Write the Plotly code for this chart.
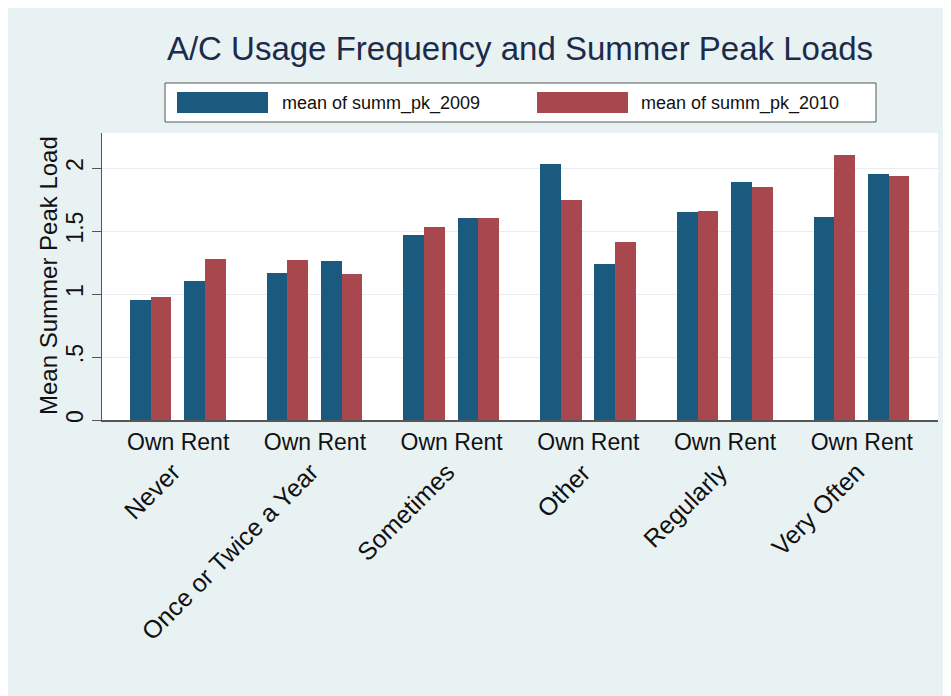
import plotly.graph_objects as go

# ---- data ----
categories = ["Never", "Once or Twice a Year", "Sometimes", "Other", "Regularly", "Very Often"]
tenure = ["Own", "Rent"]
# values per category: [Own, Rent]
summ_pk_2009 = [[0.95, 1.10], [1.17, 1.26], [1.47, 1.60], [2.03, 1.24], [1.65, 1.89], [1.61, 1.95]]
summ_pk_2010 = [[0.975, 1.275], [1.27, 1.155], [1.53, 1.605], [1.745, 1.415], [1.655, 1.85], [2.10, 1.94]]
y_ticks = [0, 0.5, 1, 1.5, 2]
y_tick_text = ["0", ".5", "1", "1.5", "2"]
y_title = "Mean Summer Peak Load"

# ---- styling ----
BLUE = "#1b5a7f"
RED = "#a9474f"
BG = "#e9f2f3"
FONT = "Liberation Sans, Arial, sans-serif"
TXT = "#111111"

OFF = 8  # page offset of the figure in the browser
W, H = 951 - OFF, 696 - OFF
L = 102 - OFF
T = 133 - OFF
R = W - (938 - OFF)
B = H - (420 - OFF)
PW, PH = W - L - R, H - T - B

half_gap = 0.1985   # distance from group centre to Own/Rent pair centre
bar_w = 0.1514

xs, x_text, v09, v10 = [], [], [], []
for i, cat in enumerate(categories):
    for j, t in enumerate(tenure):
        xs.append(i + (j * 2 - 1) * half_gap)
        x_text.append(t)
        v09.append(summ_pk_2009[i][j])
        v10.append(summ_pk_2010[i][j])

fig = go.Figure()
fig.add_trace(go.Bar(x=xs, y=v09, width=bar_w, offset=-bar_w, marker=dict(color=BLUE, line=dict(width=0)),
                     name="mean of summ_pk_2009", showlegend=False))
fig.add_trace(go.Bar(x=xs, y=v10, width=bar_w, offset=0, marker=dict(color=RED, line=dict(width=0)),
                     name="mean of summ_pk_2010", showlegend=False))


def px_x(p):
    return (p - OFF - L) / PW


def px_y(p):
    return (H - B - (p - OFF)) / PH


shapes = [
    # legend box
    dict(type="rect", xref="paper", yref="paper", x0=px_x(165), x1=px_x(876), y0=px_y(122), y1=px_y(83),
         fillcolor="white", line=dict(color="#555555", width=1)),
    dict(type="rect", xref="paper", yref="paper", x0=px_x(177), x1=px_x(268), y0=px_y(113), y1=px_y(92),
         fillcolor=BLUE, line=dict(width=0)),
    dict(type="rect", xref="paper", yref="paper", x0=px_x(537), x1=px_x(628), y0=px_y(113), y1=px_y(92),
         fillcolor=RED, line=dict(width=0)),
]

annotations = [
    dict(text="mean of summ_pk_2009", xref="paper", yref="paper", x=px_x(280), y=px_y(103),
         xanchor="left", yanchor="middle", showarrow=False, font=dict(family=FONT, size=18, color=TXT)),
    dict(text="mean of summ_pk_2010", xref="paper", yref="paper", x=px_x(639), y=px_y(103),
         xanchor="left", yanchor="middle", showarrow=False, font=dict(family=FONT, size=18, color=TXT)),
    dict(text=y_title, xref="paper", yref="paper", x=px_x(48), y=px_y(276),
         xanchor="center", yanchor="middle", textangle=-90, showarrow=False,
         font=dict(family=FONT, size=24, color=TXT)),
]
for i, cat in enumerate(categories):
    annotations.append(dict(text=cat, xref="x", yref="paper", x=i + 0.08, y=px_y(455),
                            xanchor="right", yanchor="top", textangle=-45, showarrow=False,
                            font=dict(family=FONT, size=25, color=TXT)))

fig.update_layout(
    width=W, height=H,
    margin=dict(l=L, r=R, t=T, b=B, autoexpand=False),
    paper_bgcolor=BG, plot_bgcolor="white",
    bargap=0, barmode="overlay",
    title=dict(text="A/C Usage Frequency and Summer Peak Loads", x=(520 - OFF) / W, xanchor="center",
               y=1 - (48 - OFF) / H, yanchor="middle", yref="container",
               font=dict(family=FONT, size=33, color="#1c2b4a")),
    shapes=shapes, annotations=annotations,
    xaxis=dict(range=[-0.555, 5.56], tickmode="array", tickvals=xs, ticktext=x_text,
               showgrid=False, zeroline=False, ticks="", showline=True, linecolor="#555555", linewidth=2,
               tickfont=dict(family=FONT, size=23, color=TXT), fixedrange=True),
    yaxis=dict(range=[0, 2.278], tickmode="array", tickvals=y_ticks, ticktext=y_tick_text, tickangle=-90,
               showgrid=True, gridcolor="#e6eef1", gridwidth=1, zeroline=False,
               ticks="outside", ticklen=9, tickcolor="#555555", showline=True, linecolor="#555555", linewidth=1,
               ticklabelstandoff=0,
               tickfont=dict(family=FONT, size=23, color=TXT)),
    showlegend=False,
)

fig.write_html("out.html")
